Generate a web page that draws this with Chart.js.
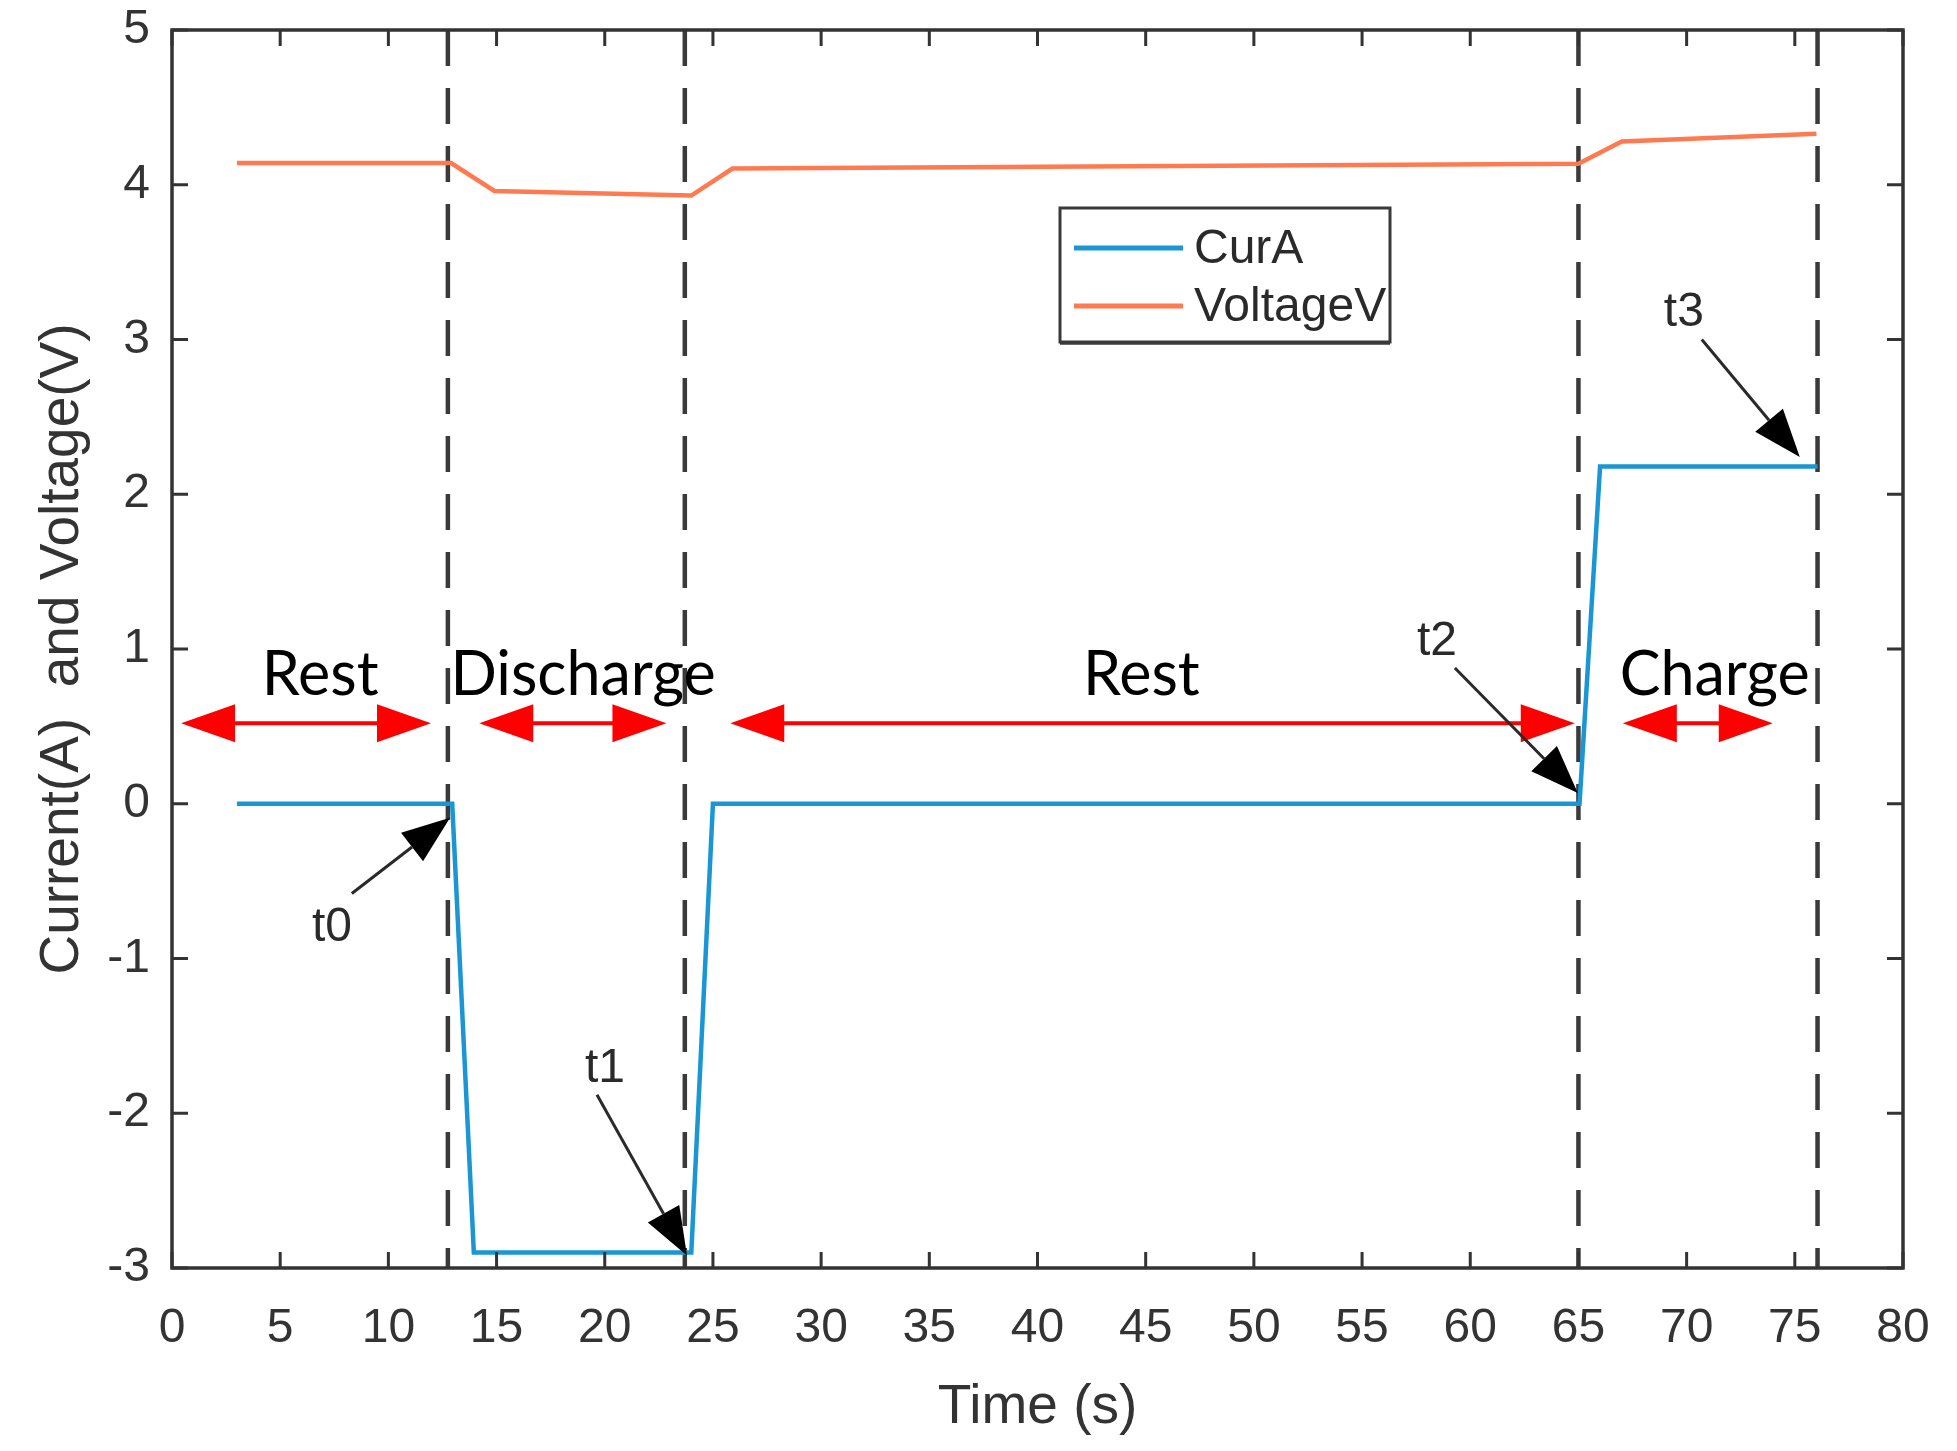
<!DOCTYPE html>
<html>
<head>
<meta charset="utf-8">
<script src="https://cdn.jsdelivr.net/npm/chart.js@4.4.1/dist/chart.umd.min.js"></script>
<style>
  html, body { margin: 0; padding: 0; background: #ffffff; }
  #wrap { width: 1957px; height: 1451px; }
</style>
</head>
<body>
<div id="wrap"><canvas id="c" width="1957" height="1451"></canvas></div>
<script>
// ---------------- data ----------------
const curTime = [3, 12.95, 13.95, 24.0, 25.0, 65.05, 66.0, 76.05];
const curA    = [0, 0, -2.9, -2.9, 0, 0, 2.18, 2.18];

const voltTime = [3, 12.9, 14.9, 24.0, 25.9, 65.0, 67.0, 76.0];
const voltV    = [4.14, 4.14, 3.96, 3.93, 4.105, 4.135, 4.28, 4.33];

const eventTimes = [12.75, 23.7, 65.0, 76.05];   // dashed vertical markers

const xTicks = [0, 5, 10, 15, 20, 25, 30, 35, 40, 45, 50, 55, 60, 65, 70, 75, 80];
const yTicks = [-3, -2, -1, 0, 1, 2, 3, 4, 5];

const seriesNames = ['CurA', 'VoltageV'];

// phase annotations (data coordinates)
const phaseNames   = ['Rest', 'Discharge', 'Rest', 'Charge'];
const phaseTextX   = [6.85, 19.0, 44.8, 71.3];
const phaseTextY   = 0.70;
const phaseFrom    = [0.42, 14.2, 25.8, 67.05];
const phaseTo      = [11.97, 22.85, 64.83, 73.98];
const phaseArrowY  = 0.52;

// time markers t0..t3 (data coordinates)
const markNames  = ['t0', 't1', 't2', 't3'];
const markTextX  = [7.39, 20.01, 58.46, 69.87];
const markTextY  = [-0.80, -1.71, 1.045, 3.17];
const markTailX  = [8.31, 19.64, 59.29, 70.7];
const markTailY  = [-0.58, -1.88, 0.877, 3.0];
const markTipX   = [12.85, 23.80, 64.97, 75.23];
const markTipY   = [-0.09, -2.92, 0.07, 2.24];

// ---------------- styles ----------------
const BLUE = '#1a96d4';
const ORANGE = '#ff7a50';
const AXIS = '#333333';
const TXT = '#333333';
const NUMFONT = '"Liberation Sans Narrow", "Liberation Sans", Arial, sans-serif';

const toPts = (xs, ys) => xs.map((x, i) => ({x: x, y: ys[i]}));

const datasets = [
  { label: seriesNames[0], data: toPts(curTime, curA), borderColor: BLUE, borderWidth: 4.5 },
  { label: seriesNames[1], data: toPts(voltTime, voltV), borderColor: ORANGE, borderWidth: 4.5 }
];
eventTimes.forEach(t => {
  datasets.push({
    label: '_event', data: [{x: t, y: 5}, {x: t, y: -3}],
    borderColor: '#3a3a3a', borderWidth: 4.5, borderDash: [36, 22]
  });
});

function arrowHead(ctx, x0, y0, x1, y1, len, half) {
  const a = Math.atan2(y1 - y0, x1 - x0);
  const bx = x1 - len * Math.cos(a), by = y1 - len * Math.sin(a);
  const px = -Math.sin(a) * half, py = Math.cos(a) * half;
  ctx.beginPath();
  ctx.moveTo(x1, y1);
  ctx.lineTo(bx + px, by + py);
  ctx.lineTo(bx - px, by - py);
  ctx.closePath();
  ctx.fill();
  return {bx, by};
}

const overlay = {
  id: 'overlay',
  afterDatasetsDraw(chart) {
    const {ctx, chartArea: ca, scales: {x, y}} = chart;
    ctx.save();
    // box + inner ticks
    ctx.strokeStyle = AXIS;
    ctx.lineWidth = 3.5;
    ctx.strokeRect(ca.left, ca.top, ca.right - ca.left, ca.bottom - ca.top);
    ctx.lineWidth = 3;
    const TL = 16;
    x.ticks.forEach(t => {
      const px = x.getPixelForValue(t.value);
      ctx.beginPath();
      ctx.moveTo(px, ca.bottom); ctx.lineTo(px, ca.bottom - TL);
      ctx.moveTo(px, ca.top); ctx.lineTo(px, ca.top + TL);
      ctx.stroke();
    });
    y.ticks.forEach(t => {
      const py = y.getPixelForValue(t.value);
      ctx.beginPath();
      ctx.moveTo(ca.left, py); ctx.lineTo(ca.left + TL, py);
      ctx.moveTo(ca.right, py); ctx.lineTo(ca.right - TL, py);
      ctx.stroke();
    });

    // red double arrows
    ctx.strokeStyle = '#ff0000';
    ctx.fillStyle = '#ff0000';
    ctx.lineWidth = 4;
    const ay = y.getPixelForValue(phaseArrowY);
    phaseFrom.forEach((f, i) => {
      const x0 = x.getPixelForValue(f), x1 = x.getPixelForValue(phaseTo[i]);
      ctx.beginPath(); ctx.moveTo(x0 + 30, ay); ctx.lineTo(x1 - 30, ay); ctx.stroke();
      arrowHead(ctx, x1 - 10, ay, x1, ay, 54, 19);
      arrowHead(ctx, x0 + 10, ay, x0, ay, 54, 19);
    });

    // phase labels
    ctx.fillStyle = '#000000';
    ctx.font = '61px Lato, "Open Sans", sans-serif';
    ctx.textAlign = 'center';
    ctx.textBaseline = 'alphabetic';
    phaseNames.forEach((n, i) => {
      ctx.fillText(n, x.getPixelForValue(phaseTextX[i]), y.getPixelForValue(phaseTextY));
    });

    // t markers
    ctx.strokeStyle = '#2a2a2a';
    ctx.fillStyle = '#000000';
    ctx.lineWidth = 3;
    markNames.forEach((n, i) => {
      const x0 = x.getPixelForValue(markTailX[i]), y0 = y.getPixelForValue(markTailY[i]);
      const x1 = x.getPixelForValue(markTipX[i]), y1 = y.getPixelForValue(markTipY[i]);
      const b = arrowHead(ctx, x0, y0, x1, y1, 48, 18);
      ctx.beginPath(); ctx.moveTo(x0, y0); ctx.lineTo(b.bx, b.by); ctx.stroke();
    });
    ctx.fillStyle = '#2a2a2a';
    ctx.font = '48px ' + NUMFONT;
    ctx.textBaseline = 'middle';
    markNames.forEach((n, i) => {
      ctx.fillText(n, x.getPixelForValue(markTextX[i]), y.getPixelForValue(markTextY[i]));
    });

    // legend
    const L = {x: 1060, y: 208, w: 330, h: 134};
    ctx.fillStyle = '#ffffff';
    ctx.fillRect(L.x, L.y, L.w, L.h);
    ctx.strokeStyle = '#3a3a3a';
    ctx.lineWidth = 3;
    ctx.strokeRect(L.x, L.y, L.w, L.h);
    ctx.lineWidth = 2.5;
    ctx.beginPath(); ctx.moveTo(L.x, L.y + L.h + 1.5); ctx.lineTo(L.x + L.w, L.y + L.h + 1.5); ctx.stroke();
    const rowsY = [L.y + 40, L.y + 98];
    ctx.font = '48px ' + NUMFONT;
    ctx.textAlign = 'left';
    ctx.textBaseline = 'middle';
    [0, 1].forEach(k => {
      const ds = chart.data.datasets[k];
      ctx.strokeStyle = ds.borderColor;
      ctx.lineWidth = 5;
      ctx.beginPath(); ctx.moveTo(L.x + 14, rowsY[k]); ctx.lineTo(L.x + 123, rowsY[k]); ctx.stroke();
      ctx.fillStyle = '#2a2a2a';
      ctx.fillText(ds.label, L.x + 134, rowsY[k] + 2);
    });
    ctx.restore();
  }
};

new Chart(document.getElementById('c'), {
  type: 'line',
  data: { datasets: datasets },
  options: {
    responsive: false,
    animation: false,
    devicePixelRatio: 1,
    parsing: true,
    elements: { point: { radius: 0 }, line: { tension: 0, fill: false, borderCapStyle: 'butt' } },
    layout: { padding: { left: 0, top: 30, right: 54, bottom: 0 } },
    plugins: { legend: { display: false }, tooltip: { enabled: false } },
    scales: {
      x: {
        type: 'linear', min: 0, max: 80,
        afterBuildTicks: s => { s.ticks = xTicks.map(v => ({value: v})); },
        afterFit: s => { s.height = 183; s.paddingLeft = 0; s.paddingRight = 0; s.paddingTop = 0; s.paddingBottom = 0; },
        grid: { display: false, drawTicks: false },
        border: { display: false },
        ticks: { color: TXT, font: { size: 48, family: NUMFONT }, padding: 32, maxRotation: 0, autoSkip: false },
        title: { display: true, text: 'Time (s)', color: TXT,
                 font: { size: 55, family: '"Liberation Sans", Arial, sans-serif' },
                 padding: { top: 0, bottom: 10 } }
      },
      y: {
        type: 'linear', min: -3, max: 5,
        afterBuildTicks: s => { s.ticks = yTicks.map(v => ({value: v})); },
        afterFit: s => { s.width = 172; s.paddingTop = 0; s.paddingBottom = 0; s.paddingLeft = 0; s.paddingRight = 0; },
        grid: { display: false, drawTicks: false },
        border: { display: false },
        ticks: { color: TXT, font: { size: 48, family: NUMFONT }, padding: 22, autoSkip: false },
        title: { display: true, text: 'Current(A)  and Voltage(V)', color: TXT,
                 font: { size: 55, family: '"Liberation Sans", Arial, sans-serif' },
                 padding: { top: 30, bottom: 0 } }
      }
    }
  },
  plugins: [overlay]
});
</script>
</body>
</html>
